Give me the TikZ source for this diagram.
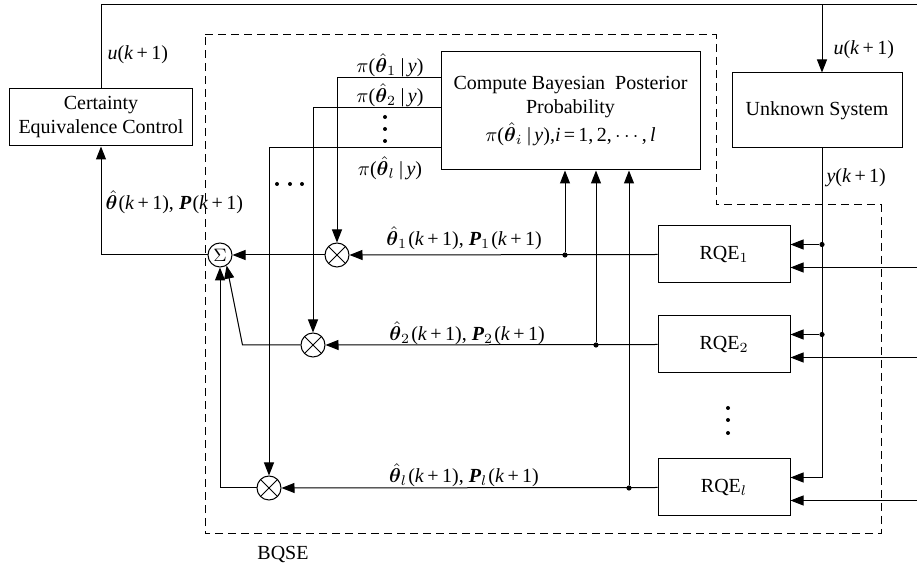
\documentclass[tikz,border=0pt]{standalone}
\usepackage{amsmath}
\usepackage{bm}
\usepackage{fontspec}
\setmainfont{Liberation Serif}
\usetikzlibrary{arrows.meta}

\newcommand{\kk}{(\textit{k}\,+\,1)}
\newcommand{\thh}{\ensuremath{\hat{\bm\theta}}}
\newcommand{\PP}{\textbf{\textit{P}}}

\tikzset{
  blk/.style={draw, line width=0.5pt, align=center, inner sep=2pt},
  mult/.style={draw, circle, minimum size=12pt, inner sep=0pt,
    path picture={\draw (path picture bounding box.north west) -- (path picture bounding box.south east)
      (path picture bounding box.north east) -- (path picture bounding box.south west);}},
  summ/.style={draw, circle, minimum size=12pt, inner sep=0pt, font=\small},
  jdot/.style={circle, fill, inner sep=0pt, minimum size=2.6pt},
  lbl/.style={inner sep=0.5pt},
  arr/.style={-{Triangle[length=6.5pt,width=5pt]}},
}

\begin{document}
\begin{tikzpicture}[x=0.5pt, y=-0.5pt, line width=0.5pt, font=\fontsize{10}{12}\selectfont]
  \useasboundingbox (0,0) rectangle (917,571);

  % Blocks
  \node[blk, minimum width=91.5pt, minimum height=28.5pt] (cec) at (101,117.5) {Certainty\\Equivalence Control};
  \node[blk, minimum width=129.5pt, minimum height=59pt] (comp) at (570.5,111)
    {Compute Bayesian\ \ Posterior\\Probability\\[2pt]$\pi$(\thh$_i$\kern0.6pt\,|\,\textit{y}),\textit{i}\,=\,1,\,2,\,$\cdots$,\,\textit{l}};
  \node[blk, minimum width=85pt, minimum height=37.5pt] (usys) at (817,110.5) {Unknown System};
  \node[blk, minimum width=66pt, minimum height=28.5pt] (rqe1) at (724,254.5) {RQE$_1$};
  \node[blk, minimum width=66pt, minimum height=28.5pt] (rqe2) at (724,344.5) {RQE$_2$};
  \node[blk, minimum width=66pt, minimum height=28.5pt] (rqel) at (724,487.5) {RQE$_l$};

  % Sum and multipliers
  \node[summ] (sum) at (220,255) {$\Sigma$};
  \node[mult] (m1) at (337,255) {};
  \node[mult] (m2) at (313,345) {};
  \node[mult] (ml) at (269,488) {};

  % Bus positions
  \coordinate (ux) at (822,0);
  \coordinate (tr) at (917,5);
  \coordinate (redge) at (917,0);
  \foreach \r in {1,2,l} {
    \path (rqe\r.east) ++(0,-10) coordinate (r\r a) ++(0,23) coordinate (r\r b);
  }

  % BQSE boundary
  \draw[dash pattern=on 4pt off 2.5pt] (205,35) -- (716,35) -- (716,205) -- (881,205)
    -- (881,534) -- (205,534) -- cycle;
  \node[lbl] (bqse) at (283,555) {BQSE};

  % Control loop
  \draw (cec.north) |- (tr);
  \draw[arr] (ux |- tr) -- (ux |- usys.north);
  \node[lbl, anchor=west] (u1) at (106,55) {\textit{u}\kk};
  \node[lbl, anchor=west] (u2) at (832,50) {\textit{u}\kk};

  % Measurement bus
  \draw[arr] (ux |- usys.south) |- (rla);
  \node[lbl, anchor=west] (yk) at (825,178) {\textit{y}\kk};
  \foreach \r in {1,2} {
    \node[jdot] (yj\r) at (r\r a -| ux) {};
    \draw[arr] (yj\r) -- (r\r a);
  }
  \foreach \r in {1,2,l} {
    \draw[arr] (r\r b -| redge) -- (r\r b);
  }
  \foreach \y in {408,420,433} {
    \fill (728,\y) circle (1pt);
  }

  % Estimator outputs
  \node[jdot] (j1) at (565,255) {};
  \node[jdot] (j2) at (596,345) {};
  \node[jdot] (jl) at (629,488) {};
  \draw[arr] (rqe1.west) -- (m1.east);
  \draw[arr] (rqe2.west) -- (m2.east);
  \draw[arr] (rqel.west) -- (ml.east);
  \draw[arr] (j1) -- (j1 |- comp.south);
  \draw[arr] (j2) -- (j2 |- comp.south);
  \draw[arr] (jl) -- (jl |- comp.south);
  \node[lbl] (th1) at (464,238) {\thh$_1$\kern0.6pt\kk, \PP$_1$\kern0.6pt\kk};
  \node[lbl] (th2) at (467,333) {\thh$_2$\kern0.6pt\kk, \PP$_2$\kern0.6pt\kk};
  \node[lbl] (thl) at (464,475) {\thh$_l$\kern0.6pt\kk, \PP$_l$\kern0.6pt\kk};

  % Posterior weights
  \draw[arr] (comp.west |- 0,78) -| (m1.north);
  \draw[arr] (comp.west |- 0,108) -| (m2.north);
  \draw[arr] (comp.west |- 0,148) -| (ml.north);
  \node[lbl] (pi1) at (390,65) {$\pi$(\thh$_1$\kern0.6pt\,|\,\textit{y})};
  \node[lbl] (pi2) at (390,95) {$\pi$(\thh$_2$\kern0.6pt\,|\,\textit{y})};
  \node[lbl] (pil) at (390,168) {$\pi$(\thh$_l$\kern0.6pt\,|\,\textit{y})};
  \foreach \y in {117,129,141} {
    \fill (385,\y) circle (1pt);
  }
  \foreach \x in {277,290,302} {
    \fill (\x,184) circle (1pt);
  }

  % Weighted sum
  \draw[arr] (m1.west) -- (sum.east);
  \draw[arr] (m2.west) -- ++(-58,0) -- (sum.-58);
  \draw[arr] (ml.west) -| (sum.south);
  \draw[arr] (sum.west) -| (cec.south);
  \node[lbl, anchor=west] (thP) at (104,202) {\thh\kern0.6pt\kk, \PP\kern0.6pt\kk};
\end{tikzpicture}
\end{document}
